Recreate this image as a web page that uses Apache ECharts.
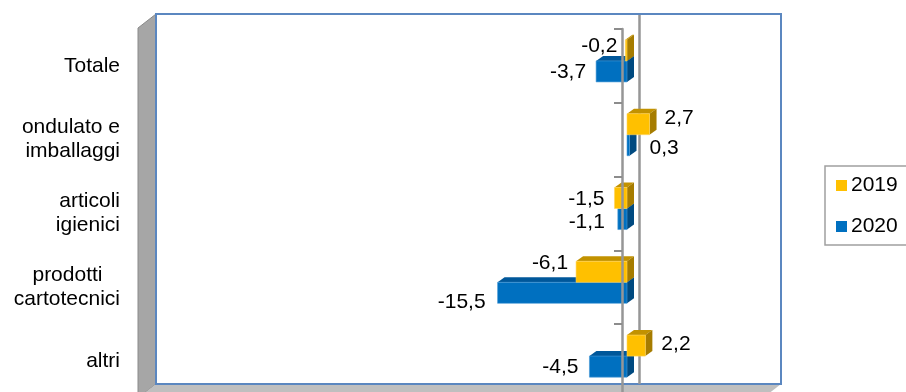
<!DOCTYPE html>
<html>
<head>
<meta charset="utf-8">
<script src="https://cdn.jsdelivr.net/npm/echarts@6/dist/echarts.min.js"></script>
<style>
  html, body { margin: 0; padding: 0; background: #fff; }
  #chart { width: 906px; height: 392px; }
</style>
</head>
<body>
<div id="chart"></div>
<script>
const categories = ['Totale', 'ondulato e\nimballaggi', 'articoli\nigienici', 'prodotti   \ncartotecnici', 'altri'];
const values2019 = [-0.2, 2.7, -1.5, -6.1, 2.2];
const values2020 = [-3.7, 0.3, -1.1, -15.5, -4.5];
const years = ['2019', '2020'];

// small hand nudges of the value labels, [x, y], same order as the values
const nudge2019 = [[2, -4], [0, -6], [0, 1], [2, -9], [1, -1]];
const nudge2020 = [[0, 1], [5, 3], [-3, 3], [-2, 9], [-1, 1]];

const fontFamily = 'Liberation Sans, Arial, sans-serif';
const yellow = { front: '#ffc000', top: '#c29200', side: '#a67c00', edge: '#ffd45c' };
const blue = { front: '#0070c0', top: '#00579a', side: '#004a80', edge: '#4a9ad6' };

// bars sit a little behind the front plane of the box
const dx = 5, dy = -5;
// depth of one bar
const depthX = 7, depthY = -5;

function bar3d(colors, nudges, seriesOffset) {
  return function (params, api) {
    const v = api.value(0);
    const base = api.coord([0, api.value(1)]);
    const end = api.coord([v, api.value(1)]);
    const h = api.size([0, 1])[1] * 0.285;
    const y0 = base[1] + dy + seriesOffset * h;
    const y1 = y0 + h;
    const x0 = Math.min(base[0], end[0]) + dx;
    const x1 = Math.max(base[0], end[0]) + dx;
    const n = nudges[params.dataIndex];
    const label = v.toFixed(1).replace('.', ',');
    const labelX = v < 0 ? x0 - 10 + n[0] : x1 + depthX + 8 + n[0];
    return {
      type: 'group',
      children: [
        {
          type: 'polygon',
          shape: { points: [[x0, y0], [x0 + depthX, y0 + depthY], [x1 + depthX, y0 + depthY], [x1, y0]] },
          style: { fill: colors.top }
        },
        {
          type: 'polygon',
          shape: { points: [[x1, y0], [x1 + depthX, y0 + depthY], [x1 + depthX, y1 + depthY], [x1, y1]] },
          style: { fill: colors.side }
        },
        {
          type: 'rect',
          shape: { x: x0, y: y0, width: x1 - x0, height: h },
          style: { fill: colors.front, stroke: colors.edge, lineWidth: 0.6 }
        },
        {
          type: 'text',
          z2: 10,
          style: {
            text: label,
            x: labelX,
            y: y0 + h / 2 + n[1],
            align: v < 0 ? 'right' : 'left',
            verticalAlign: 'middle',
            fill: '#000',
            font: '21px ' + fontFamily
          }
        }
      ]
    };
  };
}

const chart = echarts.init(document.getElementById('chart'), null, { renderer: 'canvas' });

const option = {
  animation: false,
  backgroundColor: '#fff',
  color: [yellow.front, blue.front],
  grid: { left: 121, top: 29, width: 668, height: 369, outerBoundsMode: 'none' },
  legend: {
    orient: 'vertical',
    left: 825,
    top: 166,
    data: years,
    icon: 'rect',
    itemWidth: 11,
    itemHeight: 11,
    itemGap: 20,
    padding: [9, 14, 8, 11],
    borderColor: '#a0a0a0',
    borderWidth: 1.5,
    selectedMode: false,
    textStyle: { fontFamily: fontFamily, fontSize: 21, color: '#000', padding: [0, 0, 0, -1] }
  },
  xAxis: {
    type: 'value',
    min: -60,
    max: 20,
    show: false
  },
  yAxis: [
    {
      type: 'category',
      inverse: true,
      data: categories,
      position: 'left',
      axisLine: { show: false, onZero: false },
      axisTick: { show: false },
      axisLabel: {
        margin: 1,
        color: '#000',
        fontFamily: fontFamily,
        fontSize: 21,
        lineHeight: 24,
        align: 'right',
        padding: [3, 0, 0, 0]
      }
    },
    {
      type: 'category',
      inverse: true,
      data: categories,
      position: 'left',
      z: 5,
      axisLine: { onZero: true, lineStyle: { color: '#969696', width: 2.5 } },
      axisTick: { show: true, length: 8, lineStyle: { color: '#8c8c8c', width: 2 } },
      axisLabel: { show: false }
    }
  ],
  graphic: {
    elements: [
      {
        type: 'polygon', silent: true, z: -1,
        shape: { points: [[138, 28], [156, 14], [156, 384], [138, 398]] },
        style: { fill: '#a6a6a6', stroke: '#8a8a8a', lineWidth: 1 }
      },
      {
        type: 'polygon', silent: true, z: -1,
        shape: { points: [[156, 384], [781, 384], [763, 398], [138, 398]] },
        style: { fill: '#bfbfbf' }
      },
      {
        type: 'rect', silent: true, z: -1,
        shape: { x: 156, y: 14, width: 625, height: 370 },
        style: { fill: '#fff', stroke: '#5b87c0', lineWidth: 2 }
      },
      {
        type: 'line', silent: true, z: -1,
        shape: { x1: 639.5, y1: 15, x2: 639.5, y2: 384 },
        style: { stroke: '#969696', lineWidth: 2.5 }
      }
    ]
  },
  series: [
    {
      name: years[0],
      type: 'custom',
      z: 3,
      coordinateSystem: 'cartesian2d',
      clip: false,
      encode: { x: 0, y: 1 },
      data: values2019.map((v, i) => [v, i]),
      renderItem: bar3d(yellow, nudge2019, -1)
    },
    {
      name: years[1],
      type: 'custom',
      z: 2,
      coordinateSystem: 'cartesian2d',
      clip: false,
      encode: { x: 0, y: 1 },
      data: values2020.map((v, i) => [v, i]),
      renderItem: bar3d(blue, nudge2020, 0)
    }
  ]
};

chart.setOption(option);
</script>
</body>
</html>
